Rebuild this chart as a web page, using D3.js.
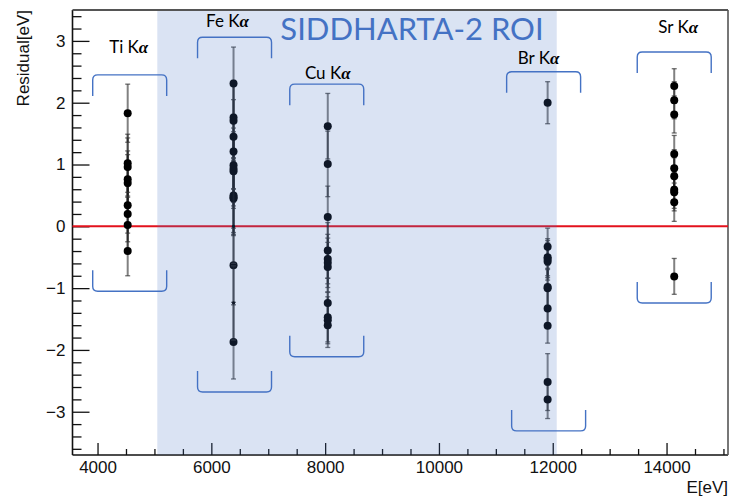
<!DOCTYPE html>
<html>
<head>
<meta charset="utf-8">
<script src="https://cdn.jsdelivr.net/npm/d3@7/dist/d3.min.js"></script>
<style>
  html, body { margin: 0; padding: 0; background: #ffffff; }
  svg { display: block; }
</style>
</head>
<body>
<svg id="chart" width="731" height="496"></svg>
<script>
// ---- data: energy-calibration residuals per fluorescence line ----
const lineNames   = ["Ti", "Fe", "Cu", "Br", "Sr"];
const lineEnergy  = [4530, 6390, 8046, 11910, 14135];   // eV

const tiResidual = [1.83, 1.02, 0.96, 0.76, 0.70, 0.34, 0.20, 0.02, -0.40];
const tiError    = [0.47, 0.47, 0.47, 0.46, 0.46, 0.45, 0.45, 0.45, 0.40];

const feResidual = [2.31, 1.76, 1.71, 1.45, 1.21, 0.99, 0.93, 0.89, 0.50, 0.47, 0.45, -0.63, -1.87];
const feError    = [0.59, 0.60, 0.60, 0.60, 0.60, 0.60, 0.60, 0.60, 0.60, 0.60, 0.60, 0.60, 0.60];
const feMinorResidual = [0.00, -1.24];
const feMinorError    = [0.60, 0.60];

const cuResidual = [1.62, 1.01, 0.15, -0.39, -0.53, -0.59, -0.66, -1.24, -1.47, -1.52, -1.60];
const cuError    = [0.53, 0.53, 0.50, 0.45, 0.40, 0.40, 0.40, 0.40, 0.40, 0.38, 0.36];

const brResidual = [2.00, -0.33, -0.50, -0.53, -0.57, -0.98, -1.00, -1.33, -1.61, -2.52, -2.80];
const brError    = [0.34, 0.30, 0.30, 0.30, 0.30, 0.30, 0.30, 0.30, 0.28, 0.46, 0.31];

const srResidual = [2.27, 2.04, 1.81, 1.17, 0.94, 0.81, 0.59, 0.55, 0.39, -0.81];
const srError    = [0.28, 0.30, 0.30, 0.30, 0.30, 0.30, 0.30, 0.30, 0.31, 0.29];

// bracket extents (residual, eV) drawn around each line's group
const bracketHigh = [2.45, 3.06, 2.30, 2.50, 2.82];
const bracketLow  = [-1.05, -2.68, -2.11, -3.31, -1.24];
const bracketHalfWidth = 650;                            // eV

// region of interest of the SIDDHARTA-2 detector
const roiRange = [5050, 12070];
const roiTitle = "SIDDHARTA-2 ROI";

// axes
const xDomain = [3560, 15080];
const yDomain = [-3.70, 3.50];
const xMajorTicks = [4000, 6000, 8000, 10000, 12000, 14000];
const yMajorTicks = [-3, -2, -1, 0, 1, 2, 3];
const xTitle = "E[eV]";
const yTitle = "Residual[eV]";

// ---- layout ----
const svg = d3.select("#chart");
const frame = { left: 72.5, right: 728, top: 10, bottom: 455 };
const x = d3.scaleLinear().domain(xDomain).range([frame.left, frame.right]);
const y = d3.scaleLinear().domain(yDomain).range([frame.bottom, frame.top]);

const axisFont = "'Liberation Sans', Arial, Helvetica, sans-serif";
const noteFont = "Lato, 'Open Sans', 'Noto Sans', sans-serif";
const accent = "#4472C4";

const residuals = [tiResidual, feResidual, cuResidual, brResidual, srResidual];
const errors    = [tiError, feError, cuError, brError, srError];

// ---- axes (ticks point into the frame, ROOT style) ----
const xMinor = d3.range(3500, 15100, 500).filter(v => v >= xDomain[0] && v <= xDomain[1] && v % 2000 !== 0);
const yMinor = d3.range(-36, 35, 2).map(v => v / 10).filter(v => Math.abs(v - Math.round(v)) > 1e-6);

const gx = svg.append("g").attr("transform", `translate(0,${frame.bottom})`);
gx.call(d3.axisBottom(x).tickValues(xMajorTicks).tickSize(-12).tickPadding(6)
        .tickFormat(d3.format("d")));
gx.append("g").call(d3.axisBottom(x).tickValues(xMinor).tickSize(-6).tickFormat(""));

const gy = svg.append("g").attr("transform", `translate(${frame.left},0)`);
gy.call(d3.axisLeft(y).tickValues(yMajorTicks).tickSize(-17).tickPadding(7)
        .tickFormat(d => d < 0 ? "\u2212" + Math.abs(d) : d));
gy.append("g").call(d3.axisLeft(y).tickValues(yMinor).tickSize(-9).tickFormat(""));

svg.selectAll(".domain").remove();
svg.selectAll(".tick line").attr("stroke", "#111").attr("stroke-width", 1.3);
svg.selectAll(".tick text").attr("font-family", axisFont).attr("font-size", 17).attr("fill", "#111");

// frame
svg.append("line").attr("x1", frame.left).attr("x2", frame.right)
  .attr("y1", frame.bottom).attr("y2", frame.bottom).attr("stroke", "#111").attr("stroke-width", 1.6);
svg.append("line").attr("x1", frame.left).attr("x2", frame.left)
  .attr("y1", frame.top).attr("y2", frame.bottom).attr("stroke", "#111").attr("stroke-width", 1.6);
svg.append("line").attr("x1", frame.left).attr("x2", frame.right)
  .attr("y1", frame.top).attr("y2", frame.top).attr("stroke", "#555").attr("stroke-width", 2);
svg.append("line").attr("x1", frame.right).attr("x2", frame.right)
  .attr("y1", frame.top).attr("y2", frame.bottom).attr("stroke", "#555").attr("stroke-width", 1.6);

// axis titles
svg.append("text").attr("x", frame.right).attr("y", 493)
  .attr("text-anchor", "end").attr("font-family", axisFont).attr("font-size", 17)
  .attr("fill", "#111").text(xTitle);
svg.append("text").attr("transform", `translate(29,${frame.top}) rotate(-90)`)
  .attr("text-anchor", "end").attr("font-family", axisFont).attr("font-size", 17)
  .attr("fill", "#111").text(yTitle);

// zero-residual reference line
svg.append("line").attr("x1", frame.left).attr("x2", frame.right)
  .attr("y1", y(0)).attr("y2", y(0)).attr("stroke", "#e3121c").attr("stroke-width", 2);

// ---- residual points with error bars ----
const plot = svg.append("g");
function drawPoints(energy, vals, errs, radius) {
  const pts = vals.map((v, i) => ({ v, e: errs[i] }));
  const g = plot.append("g");
  const cx = x(energy);
  g.selectAll("line.bar").data(pts).join("line").attr("class", "bar")
    .attr("x1", cx).attr("x2", cx)
    .attr("y1", d => y(d.v + d.e)).attr("y2", d => y(d.v - d.e))
    .attr("stroke", "#1a1a1a").attr("stroke-opacity", 0.55).attr("stroke-width", 2);
  const caps = pts.flatMap(d => [d.v + d.e, d.v - d.e]);
  g.selectAll("line.cap").data(caps).join("line").attr("class", "cap")
    .attr("x1", cx - 2.5).attr("x2", cx + 2.5)
    .attr("y1", d => y(d)).attr("y2", d => y(d))
    .attr("stroke", "#333").attr("stroke-opacity", 0.7).attr("stroke-width", 1.3);
  g.selectAll("circle").data(pts).join("circle")
    .attr("cx", cx).attr("cy", d => y(d.v)).attr("r", radius)
    .attr("fill", "#000");
}
lineEnergy.forEach((E, i) => drawPoints(E, residuals[i], errors[i], 4));
drawPoints(lineEnergy[1], feMinorResidual, feMinorError, 1.6);

// ---- ROI band (translucent overlay) ----
svg.append("rect")
  .attr("x", x(roiRange[0])).attr("y", frame.top + 1)
  .attr("width", x(roiRange[1]) - x(roiRange[0]))
  .attr("height", frame.bottom - frame.top - 1.5)
  .attr("fill", accent).attr("fill-opacity", 0.2);

svg.append("text").attr("x", 412).attr("y", 40)
  .attr("text-anchor", "middle").attr("font-family", noteFont).attr("font-size", 31)
  .attr("fill", accent).text(roiTitle);

// ---- brackets and line labels ----
const leg = 21, rr = 5;
const bracketShift = [2, 1, -1, -4, 0];       // px nudges of bracket centres
const labelShift   = [1, -6, 0, -9, 4];        // px nudges of label centres
const labelLift    = [22, 10, 5, 8, 19];       // px from bracket to label baseline

function bracketPath(xc, yEdge, dir) {
  // dir = +1: opening downward (top bracket), -1: opening upward (bottom bracket)
  const half = x(bracketHalfWidth + xDomain[0]) - x(xDomain[0]);
  const x0 = xc - half, x1 = xc + half;
  const p = d3.path();
  p.moveTo(x0, yEdge + dir * leg);
  p.lineTo(x0, yEdge + dir * rr);
  p.quadraticCurveTo(x0, yEdge, x0 + rr, yEdge);
  p.lineTo(x1 - rr, yEdge);
  p.quadraticCurveTo(x1, yEdge, x1, yEdge + dir * rr);
  p.lineTo(x1, yEdge + dir * leg);
  return p.toString();
}

const ann = svg.append("g");
lineNames.forEach((name, i) => {
  const xc = x(lineEnergy[i]) + bracketShift[i];
  const yTop = y(bracketHigh[i]);
  const yBot = y(bracketLow[i]);
  ann.append("path").attr("d", bracketPath(xc, yTop, 1))
    .attr("fill", "none").attr("stroke", accent).attr("stroke-width", 1.4);
  ann.append("path").attr("d", bracketPath(xc + (i === 3 ? 5 : 0), yBot, -1))
    .attr("fill", "none").attr("stroke", accent).attr("stroke-width", 1.4);
  const t = ann.append("text")
    .attr("x", x(lineEnergy[i]) + labelShift[i]).attr("y", yTop - labelLift[i])
    .attr("text-anchor", "middle").attr("font-family", noteFont).attr("font-size", 17)
    .attr("fill", "#000");
  t.append("tspan").text(name + " K");
  t.append("tspan").attr("font-family", "'Liberation Serif', 'DejaVu Serif', serif")
    .attr("font-style", "italic").attr("font-weight", "bold").text("\u03B1");
});
</script>
</body>
</html>
